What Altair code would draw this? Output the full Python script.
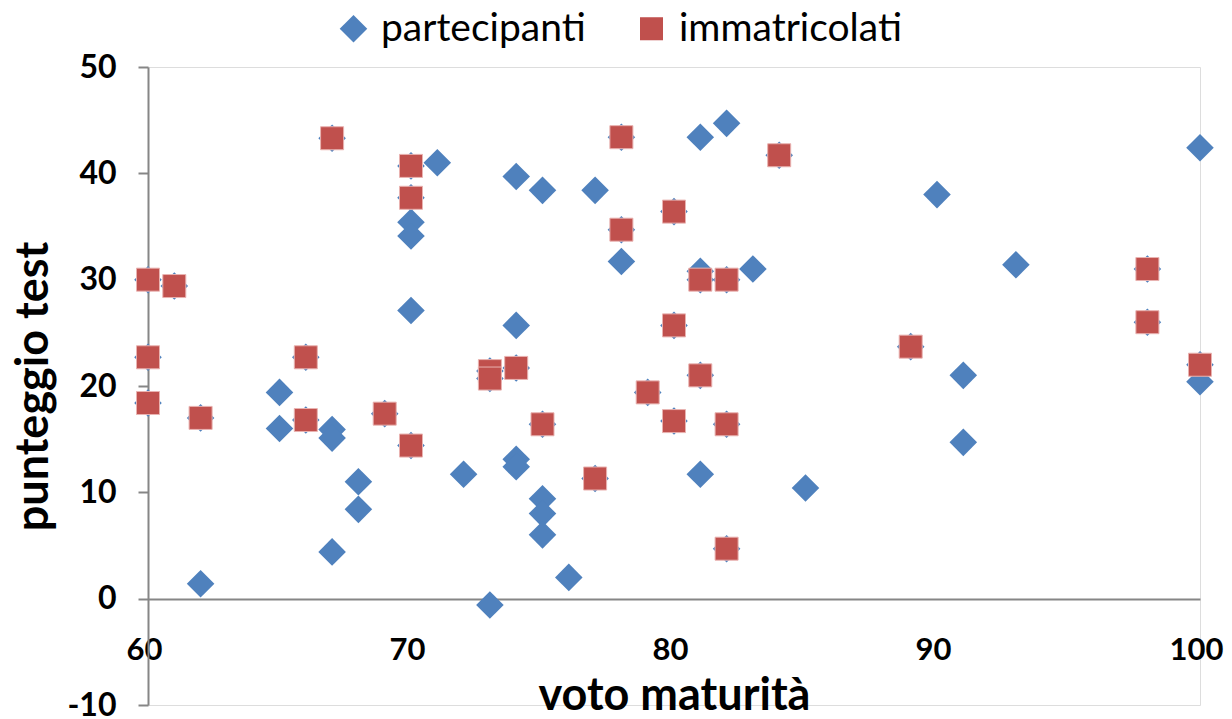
import altair as alt
import pandas as pd

# immatricolati (also partecipanti)
imm_voto = [67, 70, 70, 60, 61, 60, 66, 60, 62, 66, 69, 70, 73, 73, 74, 75, 77, 78, 78, 79,
            80, 80, 80, 81, 82, 81, 82, 82, 84, 89, 98, 98, 100]
imm_test = [43.3, 40.7, 37.7, 30.0, 29.4, 22.7, 22.7, 18.4, 17.0, 16.8, 17.4, 14.4, 21.4, 20.7,
            21.7, 16.4, 11.3, 43.4, 34.7, 19.4, 36.4, 25.7, 16.7, 30.0, 30.0, 21.0, 16.4, 4.7,
            41.7, 23.7, 31.0, 26.0, 22.0]
# partecipanti not immatricolati
solo_voto = [71, 70, 70, 70, 65, 65, 67, 67, 68, 68, 67, 62, 72, 74, 75, 77, 78, 81, 82, 83,
             81, 74, 74, 74, 75, 75, 75, 76, 73, 81, 85, 90, 93, 100, 91, 91, 100]
solo_test = [41.0, 35.4, 34.1, 27.1, 19.4, 16.0, 15.9, 15.1, 11.0, 8.4, 4.4, 1.4, 11.7, 39.7,
             38.4, 38.4, 31.7, 43.4, 44.7, 31.0, 30.8, 25.7, 13.1, 12.4, 9.4, 8.0, 6.0, 2.0,
             -0.6, 11.7, 10.4, 38.0, 31.4, 42.4, 21.0, 14.7, 20.4]

series = ["partecipanti", "immatricolati"]
colors = ["#4F81BD", "#C0504D"]
shapes = ["diamond", "square"]
sizes = [760, 530]
x_ticks = [60, 70, 80, 90, 100]
y_ticks = [-10, 0, 10, 20, 30, 40, 50]

part_voto = imm_voto + solo_voto
part_test = imm_test + solo_test

df = pd.DataFrame({
    "voto": part_voto + imm_voto,
    "test": part_test + imm_test,
    "serie": [series[0]] * len(part_voto) + [series[1]] * len(imm_voto),
})

FONT = "Lato"
AX = "#868686"

x = alt.X("voto:Q", scale=alt.Scale(domain=[60, 100], nice=False, zero=False),
          axis=alt.Axis(values=x_ticks, offset=-106, ticks=False, grid=False,
                        domainColor=AX, domainWidth=2,
                        labelFontSize=31, labelFontWeight="bold", labelFont=FONT,
                        labelColor="black", labelPadding=36, labelFlush=False,
                        labelOverlap=False, labelExpr="'' + datum.value",
                        labelOffset=-4,
                        title="voto maturità", titleFontSize=45, titleFont=FONT,
                        titleFontWeight="bold", titleColor="black", titlePadding=8))
y = alt.Y("test:Q", scale=alt.Scale(domain=[-10, 50], nice=False, zero=False),
          axis=alt.Axis(values=y_ticks, grid=False, domainColor=AX, domainWidth=2,
                        tickColor=AX, tickWidth=2, tickSize=10,
                        labelFontSize=32, labelFontWeight="bold", labelFont=FONT,
                        labelColor="black", labelPadding=22, labelFlush=False,
                        labelExpr="'' + datum.value",
                        title="punteggio test", titleFontSize=45, titleFont=FONT,
                        titleFontWeight="bold", titleColor="black", titlePadding=10))

color = alt.Color("serie:N", scale=alt.Scale(domain=series, range=colors),
                  legend=alt.Legend(orient="none", legendX=186, legendY=-58,
                                    direction="horizontal", title=None,
                                    labelFontSize=39, labelFont=FONT, labelColor="black",
                                    labelLimit=500,
                                    symbolSize=620, symbolStrokeWidth=0,
                                    columnPadding=46, labelOffset=8))
shape = alt.Shape("serie:N", scale=alt.Scale(domain=series, range=shapes))
size = alt.Size("serie:N", scale=alt.Scale(domain=series, range=sizes), legend=None)

blue = alt.Chart(df).transform_filter(alt.datum.serie == series[0]).mark_point(
    filled=True, opacity=1).encode(x=x, y=y, color=color, shape=shape, size=size)
red = alt.Chart(df).transform_filter(alt.datum.serie == series[1]).mark_point(
    filled=True, opacity=1, stroke="#E9B3B1", strokeWidth=1).encode(
    x=x, y=y, color=color, shape=shape, size=size)

chart = alt.layer(blue, red).properties(
    width=1052, height=638,
    autosize=alt.AutoSizeParams(type="none"),
    padding={"left": 140, "top": 59, "right": 24, "bottom": 14},
).configure_view(stroke=None).configure(font=FONT)

chart.save("out.html", embed_options={"renderer": "svg", "actions": False})
